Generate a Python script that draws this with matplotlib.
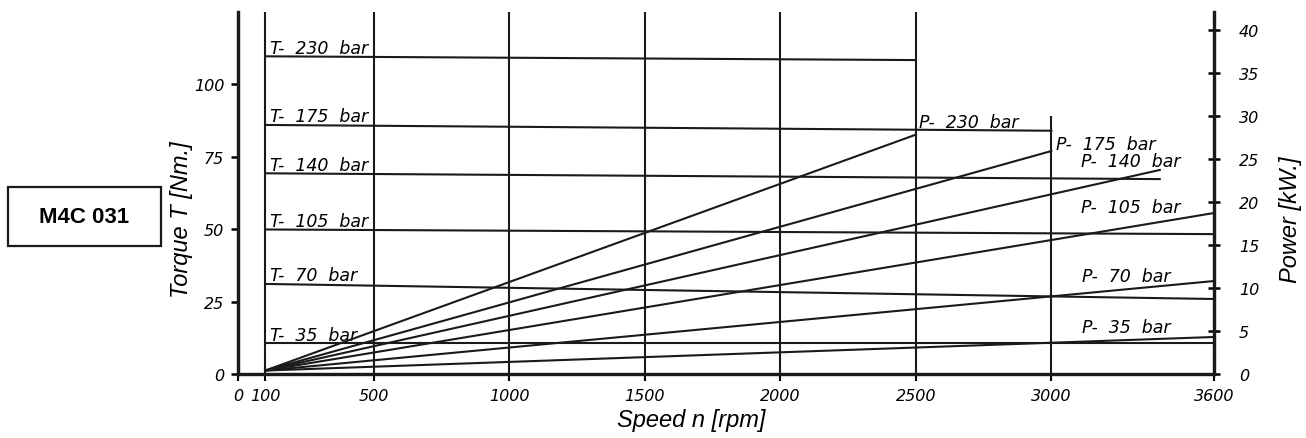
import matplotlib
matplotlib.use("Agg")
import matplotlib.pyplot as plt
from matplotlib.patches import Rectangle

# torque curves (Nm) per pressure, start at 100 rpm, end at t_end_rpm
pressures = [230, 175, 140, 105, 70, 35]
t_start = [109.7, 86.0, 69.3, 49.9, 31.1, 10.6]
t_end = [108.4, 84.0, 67.3, 48.3, 25.9, 10.6]
t_end_rpm = [2500, 3000, 3400, 3600, 3600, 3600]

# power curves (kW), start at 100 rpm
p_start = [0.4, 0.4, 0.4, 0.4, 0.4, 0.4]
p_end = [27.8, 25.9, 23.7, 18.7, 10.8, 4.3]
p_end_rpm = [2500, 3000, 3400, 3600, 3600, 3600]

start_rpm = 100
grid_rpm = [100, 500, 1000, 1500, 2000, 2500, 3000]
grid_top = [125, 125, 125, 125, 125, 125, 89.2]

x_ticks = [0, 100, 500, 1000, 1500, 2000, 2500, 3000, 3600]
t_ticks = [0, 25, 50, 75, 100]
p_ticks = [0, 5, 10, 15, 20, 25, 30, 35, 40]

# label anchors for the power curves (rpm, torque units)
p_label_pos = [(2512, 85.3), (3017, 77.7), (3110, 71.8),
               (3110, 55.9), (3113, 32.1), (3113, 14.5)]

cad = {"family": "DejaVu Sans", "style": "oblique", "size": 11.5}
cad_big = dict(cad, size=12.5)
lab = {"family": "Liberation Sans", "style": "italic", "stretch": "normal",
       "size": 17}

fig = plt.figure(figsize=(13.06, 4.39), dpi=100)
ax = fig.add_axes([238 / 1306, 64 / 439, 976 / 1306, 362 / 439])
ax2 = ax.twinx()

ax.set_xlim(0, 3600)
ax.set_ylim(0, 125)
ax2.set_ylim(0, 42.05)

for x, top in zip(grid_rpm, grid_top):
    ax.plot([x, x], [0, top], color="#1a1a1a", lw=1.5, solid_capstyle="butt")

for p, a, b, e in zip(pressures, t_start, t_end, t_end_rpm):
    ax.plot([start_rpm, e], [a, b], color="#1a1a1a", lw=1.5)
    ax.text(118, a + 1.2, "T-  %d  bar" % p, va="baseline", ha="left", **cad_big)

for p, a, b, e, pos in zip(pressures, p_start, p_end, p_end_rpm, p_label_pos):
    ax2.plot([start_rpm, e], [a, b], color="#1a1a1a", lw=1.5)
    ax.text(pos[0], pos[1], "P-  %d  bar" % p, va="baseline", ha="left", **cad_big)

for a in (ax, ax2):
    a.spines["top"].set_visible(False)
    for s in ("left", "right", "bottom"):
        a.spines[s].set_linewidth(2.3)
        a.spines[s].set_color("#1a1a1a")

ax.set_xticks(x_ticks)
ax.set_xticklabels([str(v) for v in x_ticks], **cad)
ax.set_yticks(t_ticks)
ax.set_yticklabels([str(v) for v in t_ticks], **cad)
ax2.set_yticks(p_ticks)
ax2.set_yticklabels([str(v) for v in p_ticks], **cad)

ax.tick_params(axis="x", direction="out", length=5, width=1.5, pad=5)
ax.tick_params(axis="y", direction="out", length=5, width=1.8, pad=5)
ax2.tick_params(axis="y", direction="inout", length=8, width=1.8, pad=14)

ax.set_xlabel("Speed n [rpm]", **lab)
ax.set_ylabel("Torque T [Nm.]", **lab)
ax2.set_ylabel("Power [kW.]", **lab)
ax.xaxis.label.set_va("center")
ax.xaxis.set_label_coords(0.464, -0.125)
ax.yaxis.label.set_va("center")
ax.yaxis.set_label_coords(-0.058, 0.43)
ax2.yaxis.label.set_va("center")
ax2.yaxis.set_label_coords(1.078, 0.43)

fig.patches.append(Rectangle((8 / 1306, 192 / 439), 153 / 1306, 59 / 439,
                             transform=fig.transFigure, fill=False,
                             lw=1.6, edgecolor="#1a1a1a"))
fig.text(84.5 / 1306, 221.5 / 439, "M4C 031", ha="center", va="center",
         family="Liberation Sans", weight="bold", stretch="normal", size=16)

fig.savefig("out.png", dpi=100)
